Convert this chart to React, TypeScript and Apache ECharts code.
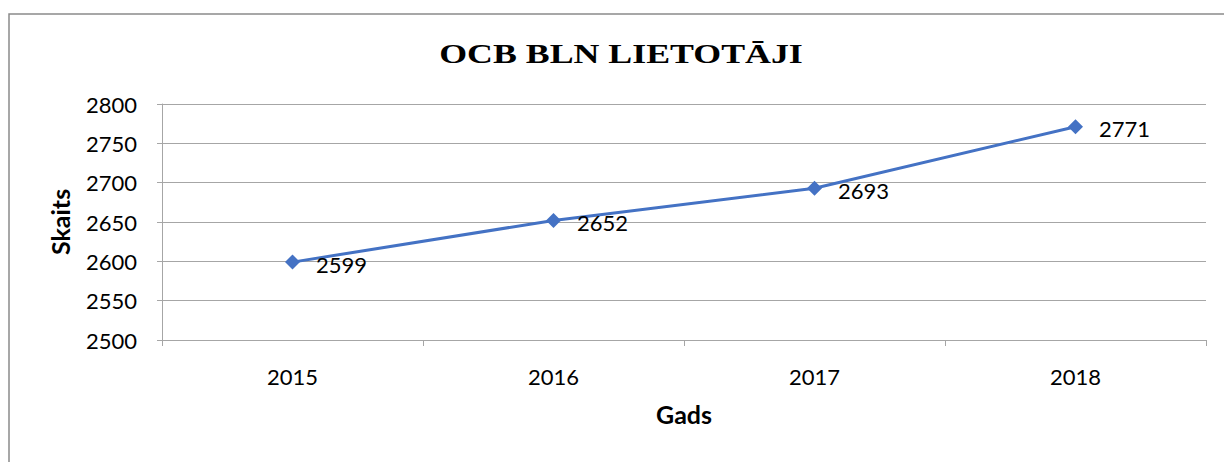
import React, { useEffect, useRef } from "react";
import * as echarts from "echarts";

const years = ["2015", "2016", "2017", "2018"];
const users = [2599, 2652, 2693, 2771];
const titleText = "OCB BLN LIETOTĀJI";
const yName = "Skaits";
const xName = "Gads";

export default function App() {
  const ref = useRef<HTMLDivElement>(null);
  useEffect(() => {
    if (!ref.current) return;
    const chart = echarts.init(ref.current, null, { renderer: "svg" });
    const gray = "#a6a6a6";
    chart.setOption({
      animation: false,
      backgroundColor: "#ffffff",
      graphic: [
        {
          type: "rect",
          shape: { x: 9, y: 14, width: 1400, height: 600 },
          style: { fill: "none", stroke: "#8a8a8a", lineWidth: 1.5 },
          silent: true,
        },
        {
          type: "text",
          x: 621,
          y: 53,
          scaleX: 1.28,
          style: {
            text: titleText,
            textAlign: "center",
            textVerticalAlign: "middle",
            fontFamily: "Liberation Serif",
            fontWeight: "bold",
            fontSize: 28,
            fill: "#000",
          },
          silent: true,
        },
      ],
      grid: { left: 162, right: 18, top: 104, bottom: 122, containLabel: false },
      xAxis: {
        type: "category",
        data: years,
        boundaryGap: true,
        name: xName,
        nameLocation: "middle",
        nameGap: 61,
        nameTextStyle: { fontFamily: "Lato", fontWeight: "bold", fontSize: 25, color: "#000" },
        axisLine: { lineStyle: { color: gray, width: 1 } },
        axisTick: { show: true, length: 6, lineStyle: { color: gray } },
        axisLabel: { fontFamily: "Lato", fontSize: 22, color: "#000", margin: 25 },
      },
      yAxis: {
        type: "value",
        min: 2500,
        max: 2800,
        interval: 50,
        name: yName,
        nameLocation: "middle",
        nameGap: 90,
        nameTextStyle: { fontFamily: "Lato", fontWeight: "bold", fontSize: 25, color: "#000" },
        axisLine: { show: true, lineStyle: { color: gray, width: 1 } },
        axisTick: { show: true, length: 5, lineStyle: { color: gray } },
        axisLabel: {
          fontFamily: "Lato",
          fontSize: 22,
          color: "#000",
          margin: 25,
          formatter: (v: number) => String(v),
        },
        splitLine: { show: true, lineStyle: { color: gray, width: 1 } },
      },
      series: [
        {
          type: "line",
          data: users,
          symbol: "diamond",
          symbolSize: 15,
          itemStyle: { color: "#4472C4" },
          lineStyle: { color: "#4472C4", width: 3 },
          label: {
            show: true,
            position: "right",
            distance: 16,
            offset: [0, 2],
            fontFamily: "Lato",
            fontSize: 22,
            color: "#000",
          },
        },
      ],
    });
    return () => chart.dispose();
  }, []);
  return (
    <div
      ref={ref}
      style={{ position: "fixed", left: 0, top: 0, width: 1224, height: 462 }}
    />
  );
}
